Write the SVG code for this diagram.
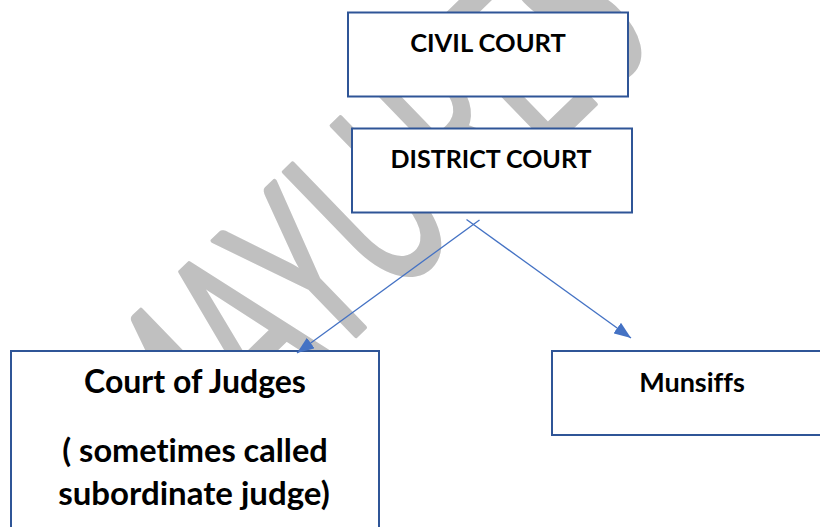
<svg xmlns="http://www.w3.org/2000/svg" width="820" height="527" viewBox="0 0 820 527">
  <style>
    .box { fill: #ffffff; stroke: #2F5597; stroke-width: 2; }
    .lbl { font-family: Lato, "Open Sans", "Liberation Sans", sans-serif; font-weight: bold; fill: #000000; text-anchor: middle; font-variant-ligatures: none; }
    .wm { font-family: Lato, "Open Sans", sans-serif; font-weight: normal; fill: #c0c0c0; stroke: #c0c0c0; stroke-width: 4.5; stroke-linejoin: round; font-variant-ligatures: none; }
    .conn { stroke: #4472C4; stroke-width: 1.3; fill: none; }
  </style>
  <defs>
    <marker id="arrow" viewBox="0 0 17 13" refX="17" refY="6.5" markerWidth="17" markerHeight="13" markerUnits="userSpaceOnUse" orient="auto">
      <path d="M0,0 L17,6.5 L0,13 Z" fill="#4472C4"/>
    </marker>
  </defs>

  <rect width="820" height="527" fill="#ffffff"/>

  <!-- diagonal background watermark, behind the boxes -->
  <g id="watermark">
    <text class="wm" font-size="234" transform="translate(173.6,511.8) rotate(-44) scale(0.6,1)">MAYU<tspan dx="30">R</tspan>E<tspan dx="8">S</tspan></text>
  </g>

  <g id="civil-court">
    <rect class="box" x="348" y="12.5" width="280" height="84"/>
    <text class="lbl" x="488" y="52" font-size="25.5">CIVIL COURT</text>
  </g>

  <g id="district-court">
    <rect class="box" x="352" y="128.5" width="280" height="84"/>
    <text class="lbl" x="491" y="168" font-size="25">DISTRICT COURT</text>
  </g>

  <g id="court-of-judges">
    <rect class="box" x="11" y="351" width="368" height="200"/>
    <text class="lbl" x="195" y="393" font-size="32">Court of Judges</text>
    <text class="lbl" x="195" y="462" font-size="32.5">( sometimes called</text>
    <text class="lbl" x="194" y="505" font-size="33">subordinate judge)</text>
  </g>

  <g id="munsiffs">
    <rect class="box" x="552" y="351" width="290" height="84"/>
    <text class="lbl" x="692" y="392" font-size="27">Munsiffs</text>
  </g>

  <g id="connectors">
    <line class="conn" x1="479.5" y1="220" x2="297" y2="353" marker-end="url(#arrow)"/>
    <line class="conn" x1="466.5" y1="219.5" x2="631" y2="338" marker-end="url(#arrow)"/>
  </g>
</svg>
